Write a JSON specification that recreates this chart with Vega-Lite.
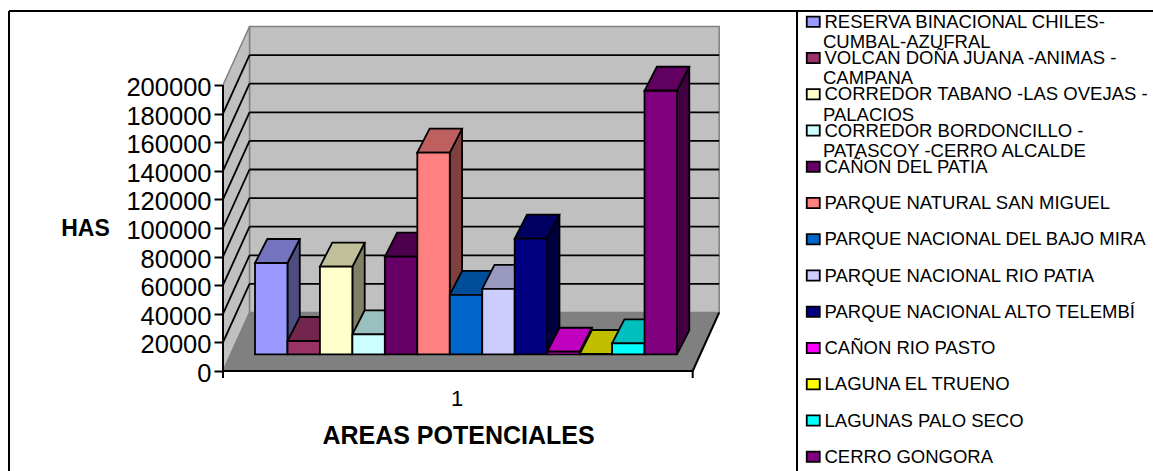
{
"$schema":"https://vega.github.io/schema/vega-lite/v6.json",
"width":1144,"height":460,"autosize":{"type":"none"},"padding":{"left":9,"top":11,"right":0,"bottom":0},
"background":"white","view":{"stroke":null},
"config":{"font":"Liberation Sans"},
"datasets":{
"areas":[
{"i":1,"area":"RESERVA BINACIONAL CHILES-CUMBAL-AZUFRAL","has":63850},
{"i":2,"area":"VOLCAN DOÑA JUANA -ANIMAS -CAMPANA","has":9300},
{"i":3,"area":"CORREDOR TABANO -LAS OVEJAS -PALACIOS","has":61260},
{"i":4,"area":"CORREDOR BORDONCILLO -PATASCOY -CERRO ALCALDE","has":14000},
{"i":5,"area":"CAÑON DEL PATIA","has":68250},
{"i":6,"area":"PARQUE NATURAL SAN MIGUEL","has":141000},
{"i":7,"area":"PARQUE NACIONAL DEL BAJO MIRA","has":41500},
{"i":8,"area":"PARQUE NACIONAL RIO PATIA","has":45700},
{"i":9,"area":"PARQUE NACIONAL ALTO TELEMBÍ","has":80840},
{"i":10,"area":"CAÑON RIO PASTO","has":1800},
{"i":11,"area":"LAGUNA EL TRUENO","has":200},
{"i":12,"area":"LAGUNAS PALO SECO","has":7700},
{"i":13,"area":"CERRO GONGORA","has":184300}],
"ticks":[{"t":20000},{"t":40000},{"t":60000},{"t":80000},{"t":100000},{"t":120000},{"t":140000},{"t":160000},{"t":180000}],
"one":[{"f":1}],
"depth":[{"d":0},{"d":1}],
"wrapped":[{"i":1,"line":"CUMBAL-AZUFRAL"},{"i":2,"line":"CAMPANA"},{"i":3,"line":"PALACIOS"},{"i":4,"line":"PATASCOY -CERRO ALCALDE"}]
},
"data":{"name":"areas"},
"layer":[
{"data":{"name":"one"},"mark":{"type":"rect","fill":"#c0c0c0","stroke":"#808080","strokeWidth":1.5},
 "encoding":{
 "x":{"datum":0.0634,"type":"quantitative","scale":{"domain":[-7.3457,27.897],"nice":false,"zero":false},
  "axis":{"title":"AREAS POTENCIALES","titleFont":"Liberation Sans","titleFontSize":25,"titleFontWeight":"bold","titleColor":"black","titleX":449,"titleY":64,"titleAlign":"center","titleBaseline":"middle","values":[6.447],"labelExpr":"'1'","labelFontSize":22,"labelColor":"black","labelPadding":17,"ticks":false,"domain":false,"grid":false,"offset":-100}},
 "x2":{"datum":14.533},
 "y":{"datum":40909,"type":"quantitative","scale":{"domain":[-69930,251748],"nice":false,"zero":false},
  "axis":{"title":"HAS","titleFont":"Liberation Sans","titleFontSize":23,"titleFontWeight":"bold","titleColor":"black","titleAngle":0,"titleAlign":"center","titleBaseline":"middle","titleX":-138,"titleY":217,"values":[0,20000,40000,60000,80000,100000,120000,140000,160000,180000,200000],"format":"d","labelFontSize":25.5,"labelColor":"black","labelPadding":3,"labelOffset":2.5,"tickSize":9,"tickWidth":2,"tickColor":"black","domain":false,"grid":false,"offset":-214}},
 "y2":{"datum":240909}}},
{"data":{"name":"depth"},"transform":[{"calculate":"-0.753+0.8164*datum.d","as":"xd"},{"calculate":"40909*datum.d","as":"yb"},{"calculate":"200000+40909*datum.d","as":"yt"}],
 "mark":{"type":"area","fill":"#c0c0c0","stroke":"#808080","strokeWidth":1.5},
 "encoding":{"x":{"field":"xd","type":"quantitative","axis":null},"y":{"field":"yt","type":"quantitative","axis":null,"stack":null},"y2":{"field":"yb"}}},
{"data":{"name":"depth"},"transform":[{"calculate":"-0.753+0.8164*datum.d","as":"xa"},{"calculate":"13.717+0.8164*datum.d","as":"xb"},{"calculate":"40909*datum.d","as":"yb"}],
 "mark":{"type":"area","orient":"horizontal","fill":"#808080","stroke":"#808080","strokeWidth":1},
 "encoding":{"y":{"field":"yb","type":"quantitative","axis":null},"x":{"field":"xa","type":"quantitative","axis":null,"stack":null},"x2":{"field":"xb"}}},
{"data":{"name":"ticks"},"transform":[{"calculate":"datum.t+40909","as":"tb"}],"mark":{"type":"rule","color":"black","strokeWidth":1.8},
 "encoding":{"x":{"datum":-0.753,"type":"quantitative","axis":null},"x2":{"datum":0.0634},"y":{"field":"t","type":"quantitative","axis":null},"y2":{"field":"tb"}}},
{"data":{"name":"ticks"},"transform":[{"calculate":"datum.t+40909","as":"tb"}],"mark":{"type":"rule","color":"black","strokeWidth":1.8},
 "encoding":{"x":{"datum":0.0634,"type":"quantitative","axis":null},"x2":{"datum":14.533},"y":{"field":"tb","type":"quantitative","axis":null}}},
{"data":{"name":"one"},"mark":{"type":"rule","color":"black","strokeWidth":2},
 "encoding":{"x":{"datum":-0.753,"type":"quantitative","axis":null},"y":{"datum":0,"type":"quantitative","axis":null},"y2":{"datum":200000}}},
{"data":{"name":"one"},"mark":{"type":"rule","color":"black","strokeWidth":2},
 "encoding":{"x":{"datum":-0.753,"type":"quantitative","axis":null},"x2":{"datum":13.717},"y":{"datum":0,"type":"quantitative","axis":null}}},
{"data":{"name":"one"},"mark":{"type":"rule","color":"black","strokeWidth":2},
 "encoding":{"x":{"datum":13.717,"type":"quantitative","axis":null},"x2":{"datum":14.533},"y":{"datum":0,"type":"quantitative","axis":null},"y2":{"datum":40909}}},
{"data":{"name":"one"},"mark":{"type":"rule","color":"black","strokeWidth":2},
 "encoding":{"x":{"datum":-0.753,"type":"quantitative","axis":null},"y":{"datum":0,"type":"quantitative","axis":null},"y2":{"datum":-4895}}},
{"data":{"name":"one"},"mark":{"type":"rule","color":"black","strokeWidth":2},
 "encoding":{"x":{"datum":13.717,"type":"quantitative","axis":null},"y":{"datum":0,"type":"quantitative","axis":null},"y2":{"datum":-4895}}},
{"transform":[{"calculate":"[0,1]","as":"k"},{"flatten":["k"]},{"calculate":"datum.i-1+1.233+0.379*datum.k","as":"xs"},{"calculate":"datum.has+11678+16783*datum.k","as":"yt"},{"calculate":"11678+16783*datum.k","as":"yb"}],
 "mark":{"type":"area","stroke":"black","strokeWidth":1.8,"opacity":1},
 "encoding":{"x":{"field":"xs","type":"quantitative","axis":null},"y":{"field":"yt","type":"quantitative","axis":null,"stack":null},"y2":{"field":"yb"},
 "color":{"field":"i","type":"ordinal","legend":null,"scale":{"range":["#4d4d80","#4d1a33","#808066","#668080","#330033","#804040","#003366","#666680","#000040","#800080","#808000","#008080","#400040"]}}}},
{"transform":[{"calculate":"[0,1]","as":"k"},{"flatten":["k"]},{"calculate":"datum.i-1+0.233+0.379*datum.k","as":"xa"},{"calculate":"datum.i-1+1.233+0.379*datum.k","as":"xb"},{"calculate":"datum.has+11678+16783*datum.k","as":"yt"}],
 "mark":{"type":"area","orient":"horizontal","stroke":"black","strokeWidth":1.8,"opacity":1},
 "encoding":{"y":{"field":"yt","type":"quantitative","axis":null},"x":{"field":"xa","type":"quantitative","axis":null,"stack":null},"x2":{"field":"xb"},
 "color":{"field":"i","type":"ordinal","legend":null,"scale":{"range":["#7373bf","#73264d","#bfbf99","#99bfbf","#4d004d","#bf6060","#004d99","#9999bf","#000060","#bf00bf","#bfbf00","#00bfbf","#600060"]}}}},
{"transform":[{"calculate":"datum.i-1+0.233","as":"xa"},{"calculate":"datum.i-1+1.233","as":"xb"},{"calculate":"datum.has+11678","as":"yt"},{"calculate":"11678","as":"yb"}],
 "mark":{"type":"rect","stroke":"black","strokeWidth":1.8},
 "encoding":{"x":{"field":"xa","type":"quantitative","axis":null},"x2":{"field":"xb"},"y":{"field":"yt","type":"quantitative","axis":null},"y2":{"field":"yb"},
 "color":{"field":"area","type":"nominal","scale":{"domain":["RESERVA BINACIONAL CHILES-CUMBAL-AZUFRAL","VOLCAN DOÑA JUANA -ANIMAS -CAMPANA","CORREDOR TABANO -LAS OVEJAS -PALACIOS","CORREDOR BORDONCILLO -PATASCOY -CERRO ALCALDE","CAÑON DEL PATIA","PARQUE NATURAL SAN MIGUEL","PARQUE NACIONAL DEL BAJO MIRA","PARQUE NACIONAL RIO PATIA","PARQUE NACIONAL ALTO TELEMBÍ","CAÑON RIO PASTO","LAGUNA EL TRUENO","LAGUNAS PALO SECO","CERRO GONGORA"],"range":["#9999ff","#993366","#ffffcc","#ccffff","#660066","#ff8080","#0066cc","#ccccff","#000080","#ff00ff","#ffff00","#00ffff","#800080"]},
 "legend":{"title":null,"orient":"none","legendX":795,"legendY":1.5,"gridAlign":"all","columns":1,"rowPadding":17.25,"symbolType":"M-1,-0.8H1V0.8H-1Z","symbolSize":169,"symbolStrokeColor":"black","symbolStrokeWidth":1.8,"symbolOpacity":1,"labelFont":"Liberation Sans","labelFontSize":18.5,"labelColor":"black","labelLimit":400,"labelOffset":2,
 "labelExpr":"datum.label=='RESERVA BINACIONAL CHILES-CUMBAL-AZUFRAL'?'RESERVA BINACIONAL CHILES-':datum.label=='VOLCAN DOÑA JUANA -ANIMAS -CAMPANA'?'VOLCAN DOÑA JUANA -ANIMAS -':datum.label=='CORREDOR TABANO -LAS OVEJAS -PALACIOS'?'CORREDOR TABANO -LAS OVEJAS -':datum.label=='CORREDOR BORDONCILLO -PATASCOY -CERRO ALCALDE'?'CORREDOR BORDONCILLO -':datum.label"}}}},
{"data":{"name":"wrapped"},"transform":[{"calculate":"(371-22-20)/0.00143-(datum.i-1)*25350","as":"ly"}],
 "mark":{"type":"text","align":"left","baseline":"middle","font":"Liberation Sans","fontSize":18.5,"color":"black"},
 "encoding":{"x":{"datum":17.73,"type":"quantitative","axis":null},"y":{"field":"ly","type":"quantitative","axis":null},"text":{"field":"line"}}},
{"data":{"name":"one"},"mark":{"type":"rule","color":"black","strokeWidth":2},
 "encoding":{"x":{"datum":-7.3457,"type":"quantitative","axis":null},"y":{"datum":-69930,"type":"quantitative","axis":null},"y2":{"datum":251748}}},
{"data":{"name":"one"},"mark":{"type":"rule","color":"black","strokeWidth":2},
 "encoding":{"x":{"datum":-7.3457,"type":"quantitative","axis":null},"x2":{"datum":27.897},"y":{"datum":251748,"type":"quantitative","axis":null}}},
{"data":{"name":"one"},"mark":{"type":"rule","color":"black","strokeWidth":2},
 "encoding":{"x":{"datum":16.93,"type":"quantitative","axis":null},"y":{"datum":-69930,"type":"quantitative","axis":null},"y2":{"datum":251748}}}
],
"resolve":{"scale":{"color":"independent"},"axis":{"x":"independent","y":"independent"}}
}
